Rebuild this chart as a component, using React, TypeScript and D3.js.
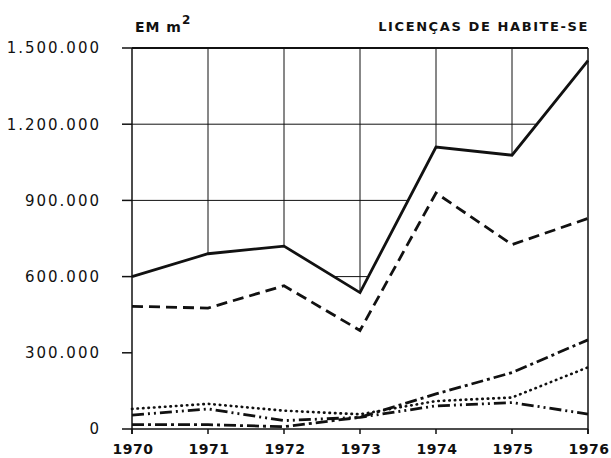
import { useEffect, useRef } from 'react';
import * as d3 from 'd3';

// values in m²
const years = [1970, 1971, 1972, 1973, 1974, 1975, 1976];
const total = [600000, 690000, 720000, 537000, 1110000, 1078000, 1450000];
const dashed = [483000, 476000, 564000, 388000, 929000, 726000, 829000];
const dotted = [79000, 99000, 72000, 58000, 110000, 124000, 243000];
const dashDotDot = [55000, 79000, 33000, 46000, 91000, 104000, 59000];
const dashDot = [17000, 17000, 9000, 46000, 138000, 222000, 351000];
const yTicks = [0, 300000, 600000, 900000, 1200000, 1500000];
const yTickLabels = ['0', '300.000', '600.000', '900.000', '1.200.000', '1.500.000'];

const W = 611;
const H = 458;
const FONT = '"DejaVu Sans", sans-serif';

export default function App() {
  const svgRef = useRef<SVGSVGElement>(null);

  useEffect(() => {
    const svg = d3.select(svgRef.current);
    svg.selectAll('*').remove();

    const x = d3.scaleLinear().domain([1970, 1976]).range([132, 588]);
    const y = d3.scaleLinear().domain([0, 1500000]).range([429, 48]);

    // grid only shows above the total line
    const clipArea = d3.area<number>()
      .x((_, i) => x(years[i]))
      .y0(y(1500000) - 2)
      .y1(d => y(d));
    svg.append('clipPath').attr('id', 'above-total')
      .append('path').attr('d', clipArea(total) as string);

    const grid = svg.append('g').attr('clip-path', 'url(#above-total)')
      .attr('stroke', '#111').attr('stroke-width', 1).attr('fill', 'none');
    yTicks.slice(1, -1).forEach(t => {
      grid.append('line').attr('x1', x(1970)).attr('x2', x(1976)).attr('y1', y(t)).attr('y2', y(t));
    });
    years.slice(1, -1).forEach(yr => {
      grid.append('line').attr('x1', x(yr)).attr('x2', x(yr)).attr('y1', y(1500000)).attr('y2', y(0));
    });

    // frame
    const frame = svg.append('g').attr('stroke', '#111').attr('fill', 'none');
    frame.append('line').attr('x1', x(1970)).attr('x2', x(1976)).attr('y1', y(1500000)).attr('y2', y(1500000)).attr('stroke-width', 2);
    frame.append('line').attr('x1', x(1970)).attr('x2', x(1976)).attr('y1', y(0)).attr('y2', y(0)).attr('stroke-width', 1.5);
    frame.append('line').attr('x1', x(1970)).attr('x2', x(1970)).attr('y1', y(1500000)).attr('y2', y(0) + 5).attr('stroke-width', 1.5);
    frame.append('line').attr('x1', x(1976)).attr('x2', x(1976)).attr('y1', y(1500000)).attr('y2', y(0) + 5).attr('stroke-width', 1.5);

    // y ticks and labels
    yTicks.forEach((t, i) => {
      frame.append('line').attr('x1', x(1970) - 10).attr('x2', x(1970)).attr('y1', y(t)).attr('y2', y(t)).attr('stroke-width', 1.5);
      svg.append('text').attr('x', 101).attr('y', y(t)).attr('dy', '0.36em')
        .attr('text-anchor', 'end').attr('font-family', FONT).attr('font-size', 15)
        .attr('letter-spacing', 2).attr('fill', '#111').text(yTickLabels[i]);
    });

    // x ticks and labels
    years.forEach(yr => {
      frame.append('line').attr('x1', x(yr)).attr('x2', x(yr)).attr('y1', y(0)).attr('y2', y(0) + 5).attr('stroke-width', 1.5);
      svg.append('text').attr('x', x(yr) + 1).attr('y', 454)
        .attr('text-anchor', 'middle').attr('font-family', FONT).attr('font-size', 14)
        .attr('font-weight', 'bold').attr('letter-spacing', 0.5).attr('fill', '#111').text(String(yr));
    });

    // series
    const line = d3.line<number>().x((_, i) => x(years[i])).y(d => y(d));
    const series: { data: number[]; dash: string; width: number; cap: string }[] = [
      { data: total, dash: '', width: 2.8, cap: 'butt' },
      { data: dashed, dash: '11,6', width: 2.8, cap: 'butt' },
      { data: dotted, dash: '0.5,5', width: 2.6, cap: 'round' },
      { data: dashDotDot, dash: '12,4,2,4,2,4', width: 2.8, cap: 'butt' },
      { data: dashDot, dash: '12,4,3,4', width: 2.8, cap: 'butt' },
    ];
    series.forEach(s => {
      svg.append('path').attr('d', line(s.data) as string)
        .attr('fill', 'none').attr('stroke', '#111').attr('stroke-width', s.width)
        .attr('stroke-dasharray', s.dash || null).attr('stroke-linecap', s.cap)
        .attr('stroke-linejoin', 'miter');
    });

    // titles
    const unit = svg.append('text').attr('x', 135).attr('y', 32)
      .attr('font-family', FONT).attr('font-size', 14).attr('font-weight', 'bold')
      .attr('letter-spacing', 1).attr('fill', '#111');
    unit.append('tspan').text('EM m');
    unit.append('tspan').attr('dy', -8).attr('font-size', 12).text('2');

    svg.append('text').attr('x', 589).attr('y', 31).attr('text-anchor', 'end')
      .attr('font-family', FONT).attr('font-size', 13).attr('font-weight', 'bold')
      .attr('letter-spacing', 1.6).attr('fill', '#111').text('LICENÇAS DE HABITE-SE');
  }, []);

  return (
    <svg ref={svgRef} width={W} height={H}
      style={{ position: 'absolute', left: 0, top: 0, background: '#fff' }} />
  );
}
